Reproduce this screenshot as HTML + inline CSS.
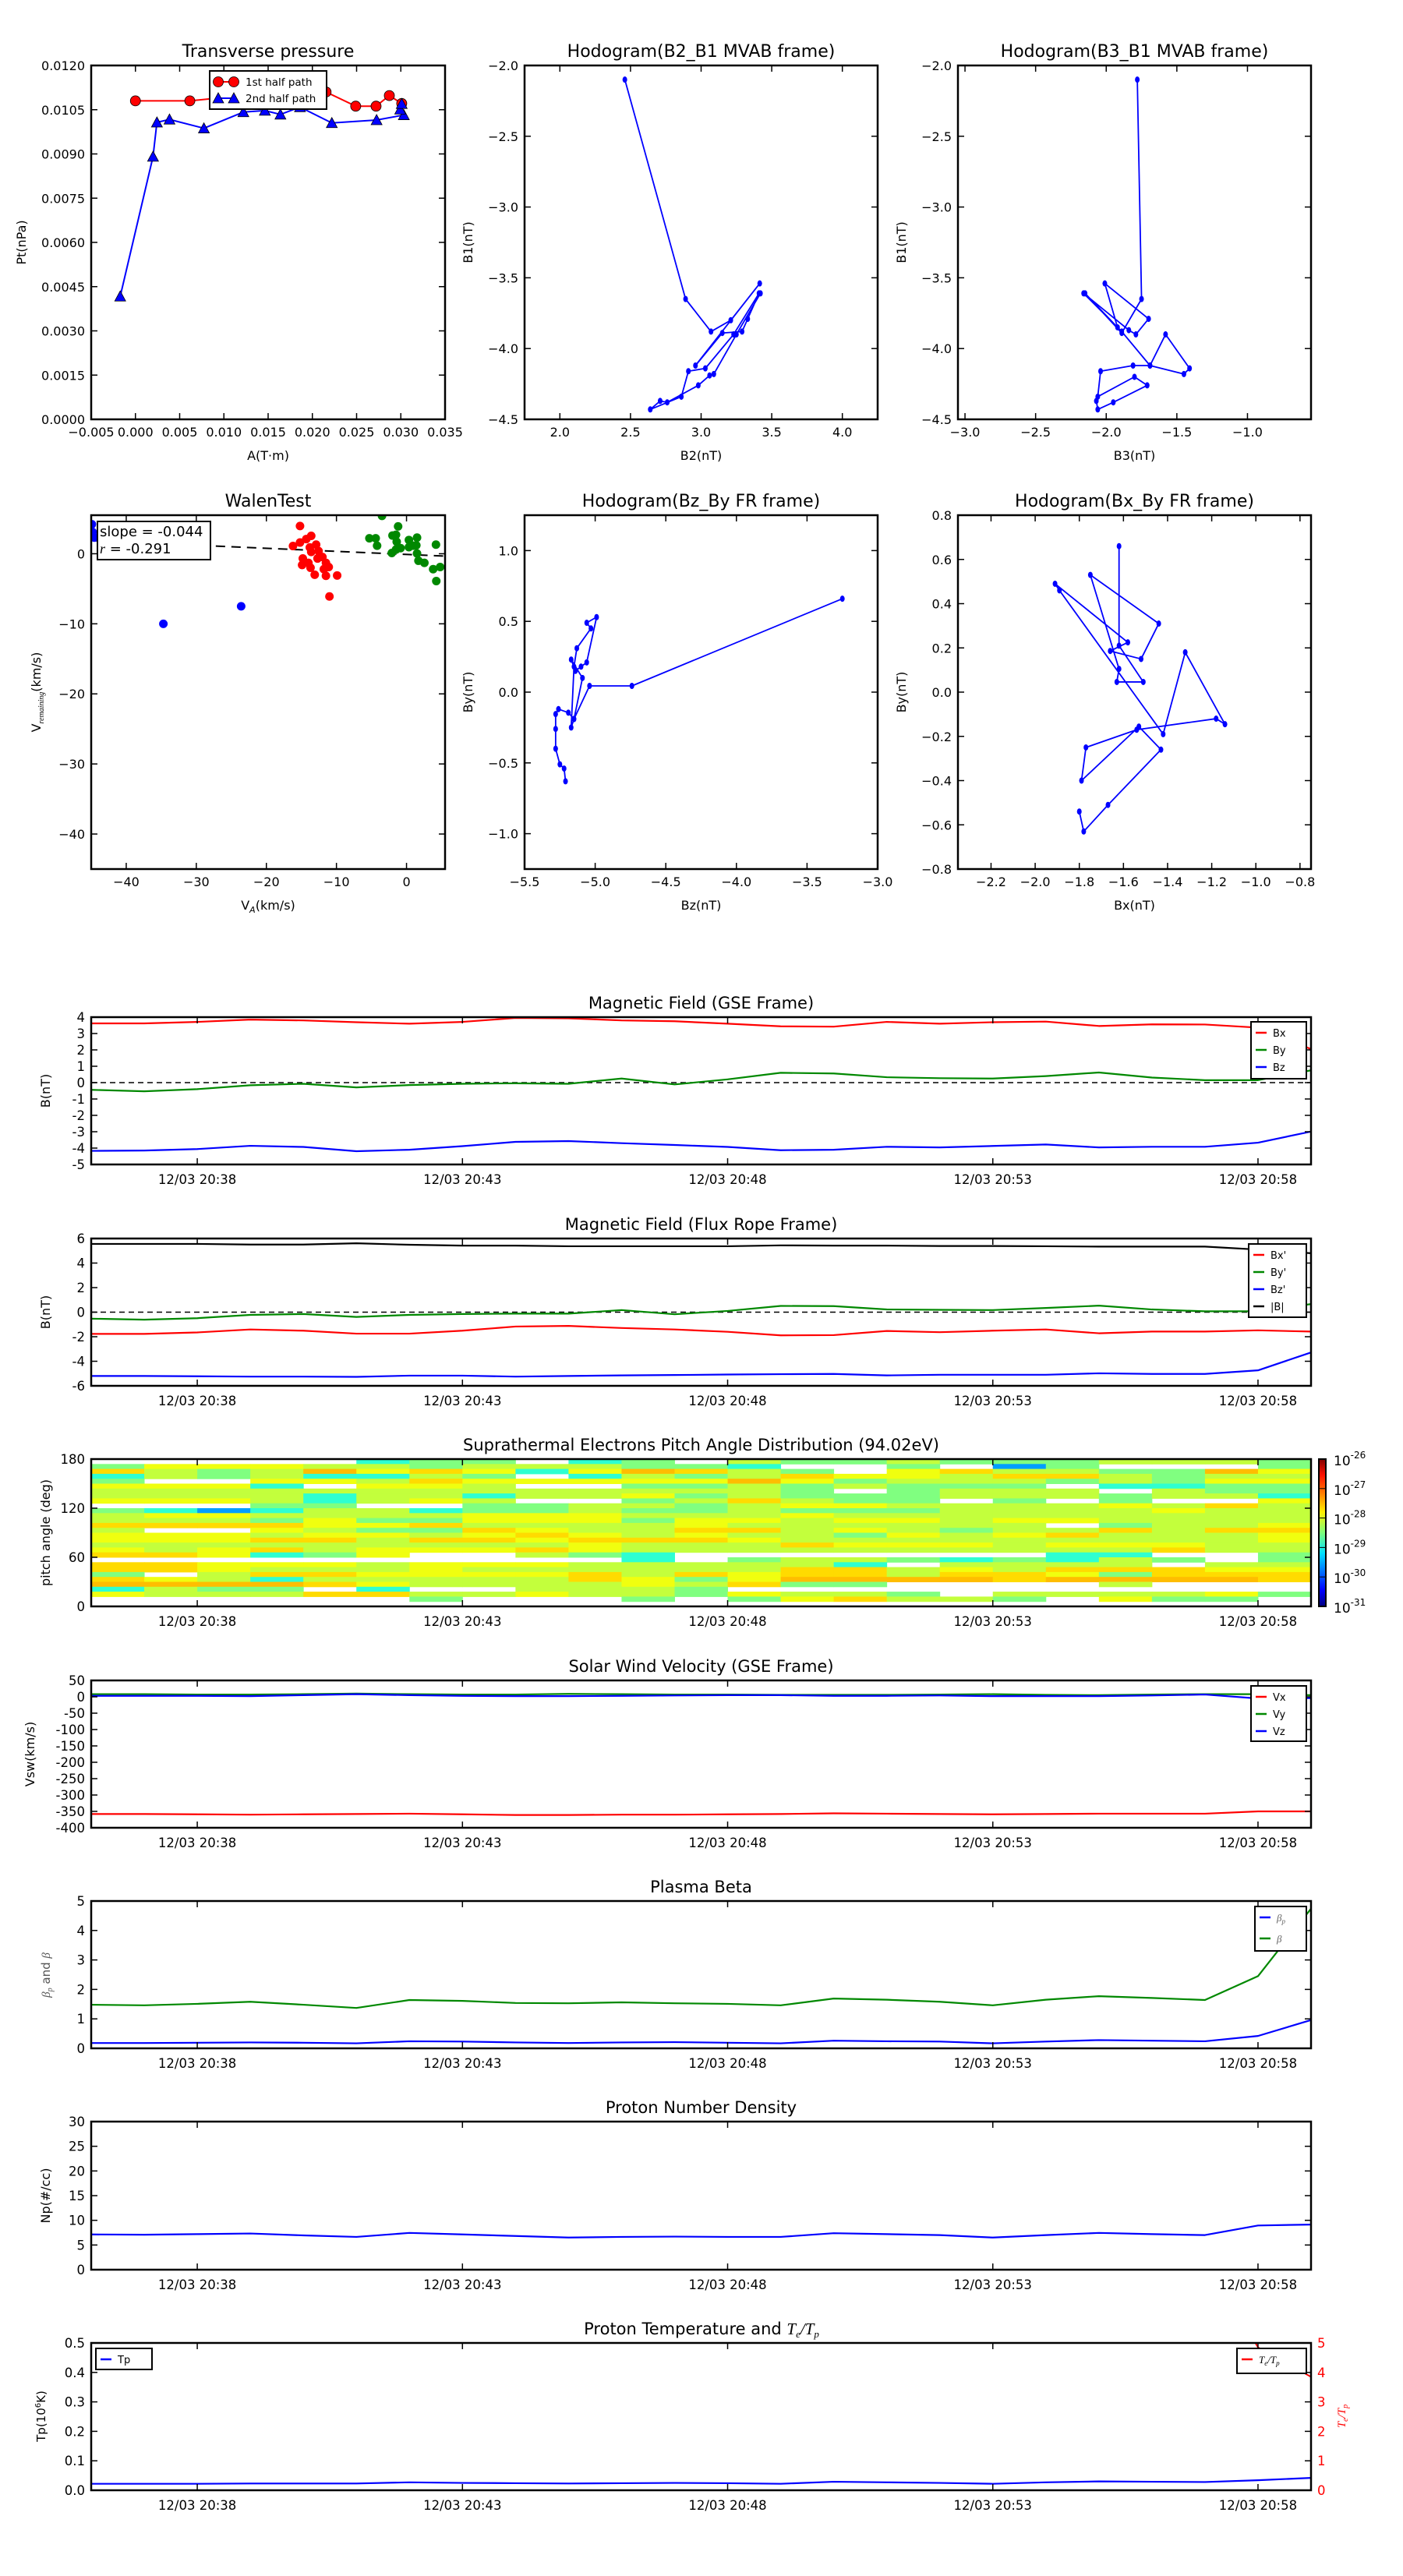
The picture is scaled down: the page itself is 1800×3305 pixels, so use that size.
<!DOCTYPE html>
<html><head><meta charset="utf-8"><title>Flux rope analysis</title>
<style>
html,body{margin:0;padding:0;background:#fff;}
svg text{font-family:"DejaVu Sans","Liberation Sans",sans-serif;}
</style></head>
<body>
<svg id="fig" xmlns="http://www.w3.org/2000/svg" width="1800" height="3300" viewBox="0 0 1800 3300">
<defs>
<linearGradient id="jet" x1="0" y1="1" x2="0" y2="0">
<stop offset="0" stop-color="#00007f"/><stop offset="0.11" stop-color="#0000ff"/><stop offset="0.36" stop-color="#00e0ff"/><stop offset="0.5" stop-color="#7dff7a"/><stop offset="0.64" stop-color="#ffef00"/><stop offset="0.89" stop-color="#ff1000"/><stop offset="1" stop-color="#7f0000"/>
</linearGradient>
</defs>
</svg>
<script>
// ---------------- DATA ----------------
const tpX1 = [0, 0.00615, 0.0095, 0.0195, 0.02155, 0.0249, 0.0272, 0.0287, 0.0301];
const tpY1 = [0.0108, 0.0108, 0.0109, 0.0112, 0.0111, 0.01062, 0.01062, 0.01098, 0.01071];
const tpX2 = [-0.00172, 0.00199, 0.00243, 0.00385, 0.00774, 0.0122, 0.01463, 0.01639, 0.0186, 0.0222, 0.02726, 0.03034, 0.02993, 0.0301];
const tpY2 = [0.00417, 0.00891, 0.01007, 0.01017, 0.00987, 0.01042, 0.01047, 0.01034, 0.01059, 0.01005, 0.01015, 0.01032, 0.01051, 0.0107];

const h1B2 = [2.46, 2.89, 3.07, 3.21, 3.415, 2.96, 3.15, 3.29, 3.33, 3.41, 3.23, 3.03, 2.91, 2.86, 2.64, 2.71, 2.76, 2.98, 3.06, 3.09, 3.25, 3.42];
const h1B1 = [-2.10, -3.65, -3.88, -3.80, -3.54, -4.12, -3.89, -3.88, -3.79, -3.61, -3.90, -4.14, -4.16, -4.34, -4.43, -4.37, -4.38, -4.26, -4.19, -4.18, -3.90, -3.61];
const h2B3 = [-1.78, -1.75, -1.89, -2.15, -1.92, -2.01, -1.70, -1.79, -1.84, -2.16, -1.89, -1.69, -1.58, -1.41, -1.45, -1.69, -1.81, -2.04, -2.06, -1.80, -1.71, -1.95, -2.06, -2.07];
const h2B1 = [-2.10, -3.65, -3.89, -3.61, -3.85, -3.54, -3.79, -3.90, -3.87, -3.61, -3.88, -4.12, -3.90, -4.14, -4.18, -4.12, -4.12, -4.16, -4.34, -4.20, -4.26, -4.38, -4.43, -4.37];

const wRedX = [-15.2, -16.2, -15.2, -14.3, -13.6, -12.9, -13.8, -13.6, -12.55, -12.0, -12.7, -14.8, -14.9, -14.0, -13.7, -11.5, -11.1, -11.8, -13.1, -11.5, -9.9, -11.0];
const wRedY = [3.96, 1.1, 1.6, 2.1, 2.55, 1.3, 0.9, 0.26, 0.38, -0.47, -0.68, -0.68, -1.6, -1.3, -2.0, -1.3, -1.9, -2.2, -3.0, -3.15, -3.1, -6.1];
const wGreenX = [-3.5, -5.3, -4.4, -4.2, -2.0, -1.2, -1.5, -1.4, -2.1, -1.5, -0.85, 0.34, 0.34, 0.98, 1.5, 1.4, 1.5, 1.7, 2.55, 4.2, 3.8, 4.8, 4.25];
const wGreenY = [5.4, 2.2, 2.2, 1.15, 2.6, 3.9, 2.7, 1.7, 0.1, 0.6, 0.8, 1.96, 0.94, 1.15, 2.3, 1.2, 0.04, -1.0, -1.3, 1.3, -2.2, -1.9, -3.9];
const wBlueX = [-44.9, -44.8, -44.55, -34.7, -23.6];
const wBlueY = [4.2, 3.1, 2.3, -10.0, -7.5];
const walenSlope = -0.044;
const walenIntercept = -0.1;

const h3Bz = [-5.21, -5.22, -5.25, -5.28, -5.28, -5.28, -5.26, -5.19, -5.15, -5.17, -5.15, -5.13, -5.03, -5.06, -4.99, -5.06, -5.10, -5.14, -5.17, -5.09, -5.15, -5.04, -4.74, -3.25];
const h3By = [-0.63, -0.54, -0.51, -0.40, -0.26, -0.155, -0.12, -0.145, -0.19, -0.25, 0.18, 0.31, 0.45, 0.49, 0.53, 0.21, 0.18, 0.15, 0.23, 0.10, -0.19, 0.044, 0.044, 0.66];
const h4Bx = [-1.80, -1.78, -1.67, -1.43, -1.53, -1.79, -1.77, -1.54, -1.18, -1.14, -1.32, -1.42, -1.89, -1.91, -1.58, -1.66, -1.52, -1.44, -1.75, -1.62, -1.63, -1.51, -1.62, -1.62];
const h4By = [-0.54, -0.63, -0.51, -0.26, -0.156, -0.40, -0.25, -0.17, -0.12, -0.145, 0.18, -0.19, 0.46, 0.49, 0.225, 0.186, 0.15, 0.31, 0.53, 0.105, 0.046, 0.046, 0.21, 0.66];

// time series: minutes after 12/03 20:36
const tMin = [0,1,2,3,4,5,6,7,8,9,10,11,12,13,14,15,16,17,18,19,20,21,22,23];
const timeTicks = [2, 7, 12, 17, 22];
const timeTickLabels = ["12/03 20:38", "12/03 20:43", "12/03 20:48", "12/03 20:53", "12/03 20:58"];

const gseBx = [3.62,3.62,3.71,3.85,3.80,3.69,3.60,3.71,3.95,3.93,3.80,3.75,3.60,3.44,3.42,3.71,3.60,3.69,3.73,3.46,3.56,3.55,3.36,2.05];
const gseBy = [-0.44,-0.53,-0.40,-0.16,-0.07,-0.29,-0.15,-0.07,-0.04,-0.07,0.25,-0.11,0.2,0.6,0.56,0.33,0.27,0.25,0.4,0.62,0.31,0.15,0.15,0.75];
const gseBz = [-4.17,-4.15,-4.06,-3.86,-3.93,-4.19,-4.10,-3.88,-3.62,-3.57,-3.70,-3.81,-3.93,-4.13,-4.10,-3.92,-3.96,-3.87,-3.78,-3.96,-3.92,-3.92,-3.67,-2.99];

const frBx = [-1.77,-1.77,-1.65,-1.41,-1.51,-1.75,-1.75,-1.51,-1.17,-1.12,-1.29,-1.41,-1.60,-1.89,-1.87,-1.53,-1.63,-1.51,-1.41,-1.72,-1.58,-1.58,-1.48,-1.58];
const frBy = [-0.53,-0.61,-0.49,-0.22,-0.15,-0.39,-0.22,-0.15,-0.12,-0.12,0.17,-0.17,0.1,0.51,0.49,0.22,0.19,0.17,0.34,0.53,0.22,0.07,0.07,0.66];
const frBz = [-5.20,-5.20,-5.22,-5.25,-5.25,-5.27,-5.17,-5.17,-5.25,-5.20,-5.15,-5.12,-5.08,-5.05,-5.03,-5.15,-5.10,-5.10,-5.10,-4.98,-5.03,-5.03,-4.74,-3.28];
const frBt = [5.56,5.56,5.56,5.51,5.51,5.61,5.49,5.42,5.42,5.37,5.37,5.37,5.37,5.44,5.42,5.42,5.39,5.39,5.37,5.34,5.34,5.34,5.10,4.80];

// pitch angle distribution: rows from 180 deg (top) to 0 deg, 6 deg bins; codes map to log10 flux
const padCodeValue = {W: null, b: -29.6, c: -28.9, g: -28.5, l: -28.17, y: -27.95, o: -27.7, O: -27.55};
const padRows = [
"WWWWWcggWcgWlgglggglllg",
"gyyyllglllggcWWgWbgWWWg",
"olglOyoycyOolgWyollggOy",
"clglcclgWclgloyyloolgll",
"gWWyyloyyyyyOyglllglgyy",
"yyycWyylWWgglglgggWccgg",
"lllllllllllllgWglllWlgg",
"llllcllcllyglggglllgllc",
"yyylclylWWglolggWgWgWWy",
"WWWggWWggllglyyllllylol",
"gcbcllcgglgglgggllllyll",
"lyyllllyyylllylllllllll",
"lllgyggyyygyylyylyyllll",
"ooooyyollllyllllllWglly",
"lWWylggoylloolylglloloo",
"yyylyylyoylyllgylyolllyy",
"yyyoolooyoooyllllllllly",
"lllllllllyllloyyylyyyll",
"ylyolyyyoyllllllllllolll",
"ooycgyWWlgcWWWWWWWccWWg",
"WWWWWWWWWWcWgllgcgclgWg",
"ooyyylyyylllllcWllllWlll",
"ooylllylllllloolyloooyyl",
"gWlooyyyyoloyoolooygoooy",
"oylcllllloygyOOOOoOOOOoy",
"OOOOoyllllyloggWWWWlWWWWg",
"clggWcWWlllgWWWWWWWWWWW",
"yllloollyllgyllgWllllygl",
"WWWWWWgWWWgWgyollgWyggW",
"WWWWWWWWWWWWWWWWWWWWWWW"
];

const vx = [-358,-358,-359,-360,-359,-358,-357,-359,-361,-361,-360,-360,-359,-358,-356,-357,-358,-359,-358,-357,-357,-357,-350,-350];
const vy = [8,8,7,7,8,10,8,7,7,9,8,7,7,6,6,6,7,8,6,5,7,8,8,5];
const vz = [3,3,3,2,5,8,5,3,2,2,3,4,5,5,3,3,4,2,2,2,4,7,-5,-4];

const betaP = [0.18,0.18,0.19,0.2,0.19,0.17,0.24,0.23,0.2,0.18,0.2,0.21,0.19,0.17,0.26,0.24,0.23,0.17,0.23,0.28,0.26,0.24,0.42,0.96];
const betaAll = [1.48,1.46,1.51,1.58,1.48,1.37,1.64,1.61,1.54,1.53,1.56,1.53,1.51,1.46,1.69,1.65,1.58,1.46,1.65,1.77,1.71,1.64,2.45,4.74];

const np = [7.14,7.08,7.2,7.33,6.95,6.64,7.45,7.14,6.83,6.51,6.64,6.7,6.64,6.64,7.39,7.2,7.01,6.51,7.01,7.45,7.2,7.01,8.95,9.14];
const tp = [0.022,0.022,0.022,0.023,0.023,0.023,0.027,0.025,0.024,0.023,0.024,0.025,0.024,0.022,0.029,0.027,0.025,0.022,0.027,0.030,0.029,0.028,0.034,0.042];
const teTp = [9,9,9,9,9,9,9,9,9,9,9,9,9,9,9,9,9,9,9,9,9,8,4.85,3.85];

// ---------------- HELPERS ----------------
const NS = "http://www.w3.org/2000/svg";
const svg = document.getElementById("fig");
let clipId = 0;
function mk(tag, parent, name, inter) {
  const e = document.createElementNS(NS, tag);
  
  
  parent.appendChild(e);
  return e;
}
function set(e, a) { for (const k in a) e.setAttribute(k, a[k]); return e; }
function txt(parent, name, x, y, s, size, anchor, extra) {
  const t = mk("text", parent, name, false);
  set(t, {x: x, y: y, "font-size": size, "text-anchor": anchor || "middle"});
  if (extra) set(t, extra);
  t.textContent = s;
  return t;
}
function fmt(v, d) { const s = v.toFixed(d); return s.replace("-", "\u2212"); }

function makeAxes(name, o) {
  const g = mk("g", svg, name, false);
  const sx = v => o.x0 + (v - o.xmin) / (o.xmax - o.xmin) * (o.x1 - o.x0);
  const sy = v => o.y1 - (v - o.ymin) / (o.ymax - o.ymin) * (o.y1 - o.y0);
  const cid = "clip" + (clipId++);
  const cp = document.createElementNS(NS, "clipPath");
  cp.setAttribute("id", cid);
  const cr = document.createElementNS(NS, "rect");
  set(cr, {x: o.x0, y: o.y0, width: o.x1 - o.x0, height: o.y1 - o.y0});
  cp.appendChild(cr); svg.appendChild(cp);
  const plot = mk("g", g, name + "-plot-area", false);
  plot.setAttribute("clip-path", "url(#" + cid + ")");
  const fr = mk("g", g, name + "-frame-group", false);
  const tl = o.tickLen || 8;
  (o.xticks || []).forEach((v, i) => {
    const x = sx(v);
    const t1 = mk("line", fr, name + "-x-tick", false);
    set(t1, {x1: x, x2: x, y1: o.y1, y2: o.y1 - tl, stroke: "#000", "stroke-width": 1.5});
    const t2 = mk("line", fr, name + "-x-tick-top", false);
    set(t2, {x1: x, x2: x, y1: o.y0, y2: o.y0 + tl, stroke: "#000", "stroke-width": 1.5});
    txt(fr, name + "-x-tick-label", x, o.y1 + (o.xlabOff || 24), o.xlabels[i], o.tickSize || 16, "middle");
  });
  (o.yticks || []).forEach((v, i) => {
    const y = sy(v);
    const t1 = mk("line", fr, name + "-y-tick", false);
    set(t1, {x1: o.x0, x2: o.x0 + tl, y1: y, y2: y, stroke: "#000", "stroke-width": 1.5});
    if (!o.noRightTicks) {
      const t2 = mk("line", fr, name + "-y-tick-right", false);
      set(t2, {x1: o.x1, x2: o.x1 - tl, y1: y, y2: y, stroke: "#000", "stroke-width": 1.5});
    }
    txt(fr, name + "-y-tick-label", o.x0 - 8, y + 6, o.ylabels[i], o.tickSize || 16, "end");
  });
  const rect = mk("rect", fr, name + "-frame", false);
  set(rect, {x: o.x0, y: o.y0, width: o.x1 - o.x0, height: o.y1 - o.y0, fill: "none", stroke: "#000", "stroke-width": 2.5});
  if (o.title) txt(fr, name + "-title", (o.x0 + o.x1) / 2, o.y0 - 11, o.title, o.titleSize || 22, "middle");
  if (o.xlabel) txt(fr, name + "-x-axis-title", (o.x0 + o.x1) / 2, o.y1 + 52, o.xlabel, 16, "middle");
  if (o.ylabel) {
    const yy = (o.y0 + o.y1) / 2;
    txt(fr, name + "-y-axis-title", o.ylabelX, yy, o.ylabel, 16, "middle", {transform: "rotate(-90 " + o.ylabelX + " " + yy + ")"});
  }
  return {g: g, plot: plot, fr: fr, sx: sx, sy: sy};
}
function line(ax, name, xs, ys, color, w, dash) {
  const p = mk("polyline", ax.plot, name, false);
  set(p, {points: xs.map((x, i) => ax.sx(x) + "," + ax.sy(ys[i])).join(" "), fill: "none", stroke: color, "stroke-width": w || 2, "stroke-linejoin": "round"});
  if (dash) p.setAttribute("stroke-dasharray", dash);
  return p;
}
function dots(ax, name, xs, ys, color, r, rx) {
  xs.forEach((x, i) => {
    const c = mk("ellipse", ax.plot, name, false);
    set(c, {cx: ax.sx(x), cy: ax.sy(ys[i]), rx: rx || r, ry: r, fill: color, stroke: "none"});
  });
}
function range(a, b, s) { const r = []; for (let v = a; v <= b + 1e-9; v += s) r.push(+v.toFixed(6)); return r; }

// ---------------- TRANSVERSE PRESSURE ----------------
(function () {
  const yt = range(0, 0.012, 0.0015);
  const xt = range(-0.005, 0.035, 0.005);
  const ax = makeAxes("transverse-pressure-chart", {x0: 117, x1: 571, y0: 84, y1: 538, xmin: -0.005, xmax: 0.035, ymin: 0, ymax: 0.012,
    xticks: xt, xlabels: xt.map(v => fmt(v, 3)), yticks: yt, ylabels: yt.map(v => v.toFixed(4)), xlabOff: 22,
    title: "Transverse pressure", xlabel: "A(T\u00b7m)", ylabel: "Pt(nPa)", ylabelX: 33});
  line(ax, "first-half-path-line", tpX1, tpY1, "#f00", 2);
  tpX1.forEach((x, i) => {
    const c = mk("circle", ax.plot, "first-half-point", false);
    set(c, {cx: ax.sx(x), cy: ax.sy(tpY1[i]), r: 6.5, fill: "#f00", stroke: "#000", "stroke-width": 0.8});
  });
  line(ax, "second-half-path-line", tpX2, tpY2, "#00f", 2);
  tpX2.forEach((x, i) => {
    const px = ax.sx(x), py = ax.sy(tpY2[i]);
    const t = mk("polygon", ax.plot, "second-half-point", false);
    set(t, {points: px + "," + (py - 7) + " " + (px - 7) + "," + (py + 6) + " " + (px + 7) + "," + (py + 6), fill: "#00f", stroke: "#000", "stroke-width": 0.8});
  });
  const lg = mk("g", ax.fr, "pressure-legend", false);
  const bx = mk("rect", lg, "legend-box", false);
  set(bx, {x: 269, y: 91, width: 150, height: 49, fill: "#fff", stroke: "#000", "stroke-width": 2});
  const l1 = mk("line", lg, "legend-entry-first-half-line", false);
  set(l1, {x1: 280, x2: 300, y1: 105, y2: 105, stroke: "#f00", "stroke-width": 2});
  [280, 300].forEach(x => { const c = mk("circle", lg, "legend-entry-first-half-marker", false); set(c, {cx: x, cy: 105, r: 6.5, fill: "#f00", stroke: "#000", "stroke-width": 0.8}); });
  txt(lg, "legend-entry-first-half-label", 315, 110, "1st half path", 13.5, "start");
  const l2 = mk("line", lg, "legend-entry-second-half-line", false);
  set(l2, {x1: 280, x2: 300, y1: 126, y2: 126, stroke: "#00f", "stroke-width": 2});
  [280, 300].forEach(x => { const t = mk("polygon", lg, "legend-entry-second-half-marker", false); set(t, {points: x + ",119 " + (x - 7) + ",132 " + (x + 7) + ",132", fill: "#00f", stroke: "#000", "stroke-width": 0.8}); });
  txt(lg, "legend-entry-second-half-label", 315, 131, "2nd half path", 13.5, "start");
})();

// ---------------- HODOGRAMS MVAB ----------------
(function () {
  const yt = range(-4.5, -2.0, 0.5);
  const xt1 = range(2.0, 4.0, 0.5);
  const ax1 = makeAxes("hodogram-b2-b1-chart", {x0: 673, x1: 1126, y0: 84, y1: 538, xmin: 1.75, xmax: 4.25, ymin: -4.5, ymax: -2.0,
    xticks: xt1, xlabels: xt1.map(v => v.toFixed(1)), yticks: yt, ylabels: yt.map(v => fmt(v, 1)), xlabOff: 22,
    title: "Hodogram(B2_B1 MVAB frame)", xlabel: "B2(nT)", ylabel: "B1(nT)", ylabelX: 606});
  line(ax1, "b2-b1-path", h1B2, h1B1, "#00f", 1.8);
  dots(ax1, "b2-b1-point", h1B2, h1B1, "#00f", 4, 3);
  const xt2 = range(-3.0, -1.0, 0.5);
  const ax2 = makeAxes("hodogram-b3-b1-chart", {x0: 1229, x1: 1682, y0: 84, y1: 538, xmin: -3.05, xmax: -0.55, ymin: -4.5, ymax: -2.0,
    xticks: xt2, xlabels: xt2.map(v => fmt(v, 1)), yticks: yt, ylabels: yt.map(v => fmt(v, 1)), xlabOff: 22,
    title: "Hodogram(B3_B1 MVAB frame)", xlabel: "B3(nT)", ylabel: "B1(nT)", ylabelX: 1162});
  line(ax2, "b3-b1-path", h2B3, h2B1, "#00f", 1.8);
  dots(ax2, "b3-b1-point", h2B3, h2B1, "#00f", 4, 3);
})();

// ---------------- WALEN TEST ----------------
(function () {
  const xt = [-40, -30, -20, -10, 0];
  const yt = [-40, -30, -20, -10, 0];
  const ax = makeAxes("walen-test-chart", {x0: 117, x1: 571, y0: 661, y1: 1115, xmin: -45, xmax: 5.5, ymin: -45, ymax: 5.5,
    xticks: xt, xlabels: xt.map(v => fmt(v, 0)), yticks: yt, ylabels: yt.map(v => fmt(v, 0)), xlabOff: 22,
    title: "WalenTest", ylabelX: 52});
  const fx = [-45, 5.5];
  line(ax, "walen-fit-line", fx, fx.map(x => walenSlope * x + walenIntercept), "#000", 2, "12,8");
  dots(ax, "walen-red-point", wRedX, wRedY, "#f00", 5.5);
  dots(ax, "walen-green-point", wGreenX, wGreenY, "#080", 5.5);
  dots(ax, "walen-blue-point", wBlueX, wBlueY, "#00f", 5.5);
  const bx = mk("rect", ax.fr, "walen-stats-box", false);
  set(bx, {x: 125, y: 669, width: 145, height: 49, fill: "#fff", stroke: "#000", "stroke-width": 2});
  txt(ax.fr, "walen-slope-label", 128, 688, "slope = -0.044", 18, "start");
  const r = txt(ax.fr, "walen-r-label", 128, 710, "", 18, "start");
  r.innerHTML = '<tspan font-style="italic" font-family="Liberation Serif, serif">r</tspan> = -0.291';
  const xl = txt(ax.fr, "walen-x-axis-title", 344, 1167, "", 16, "middle");
  xl.innerHTML = 'V<tspan font-size="11" dy="4" font-style="italic">A</tspan><tspan dy="-4">(km/s)</tspan>';
  const yl = txt(ax.fr, "walen-y-axis-title", 52, 888, "", 16, "middle", {transform: "rotate(-90 52 888)"});
  yl.innerHTML = 'V<tspan font-size="10" dy="4" font-style="italic" font-family="Liberation Serif, serif">remaining</tspan><tspan dy="-4">(km/s)</tspan>';
})();

// ---------------- HODOGRAMS FR ----------------
(function () {
  const xt = range(-5.5, -3.0, 0.5);
  const yt = [-1.0, -0.5, 0.0, 0.5, 1.0];
  const ax = makeAxes("hodogram-bz-by-chart", {x0: 673, x1: 1126, y0: 661, y1: 1115, xmin: -5.5, xmax: -3.0, ymin: -1.25, ymax: 1.25,
    xticks: xt, xlabels: xt.map(v => fmt(v, 1)), yticks: yt, ylabels: yt.map(v => fmt(v, 1)), xlabOff: 22,
    title: "Hodogram(Bz_By FR frame)", xlabel: "Bz(nT)", ylabel: "By(nT)", ylabelX: 606});
  line(ax, "bz-by-path", h3Bz, h3By, "#00f", 1.8);
  dots(ax, "bz-by-point", h3Bz, h3By, "#00f", 4, 3);
  const xt2 = range(-2.2, -0.8, 0.2);
  const yt2 = range(-0.8, 0.8, 0.2);
  const ax2 = makeAxes("hodogram-bx-by-chart", {x0: 1229, x1: 1682, y0: 661, y1: 1115, xmin: -2.35, xmax: -0.75, ymin: -0.8, ymax: 0.8,
    xticks: xt2, xlabels: xt2.map(v => fmt(v, 1)), yticks: yt2, ylabels: yt2.map(v => fmt(v, 1)), xlabOff: 22,
    title: "Hodogram(Bx_By FR frame)", xlabel: "Bx(nT)", ylabel: "By(nT)", ylabelX: 1162});
  line(ax2, "bx-by-path", h4Bx, h4By, "#00f", 1.8);
  dots(ax2, "bx-by-point", h4Bx, h4By, "#00f", 4, 3);
})();

// ---------------- TIME SERIES ----------------
function timeAxes(name, y0, y1, ymin, ymax, yt, ylab, title, ylabel, extra) {
  const o = {x0: 117, x1: 1682, y0: y0, y1: y1, xmin: 0, xmax: 23, ymin: ymin, ymax: ymax,
    xticks: timeTicks, xlabels: timeTickLabels, yticks: yt, ylabels: ylab, xlabOff: 25, tickSize: 16.5,
    title: title, titleSize: 21, ylabel: ylabel, ylabelX: 64};
  if (extra) Object.assign(o, extra);
  return makeAxes(name, o);
}
function legend(ax, name, x, y, w, h, entries, rowGap, textSize) {
  const lg = mk("g", ax.fr, name, false);
  const bx = mk("rect", lg, name + "-box", false);
  set(bx, {x: x, y: y, width: w, height: h, fill: "#fff", stroke: "#000", "stroke-width": 2});
  entries.forEach((en, i) => {
    const yy = y + 14 + i * rowGap;
    const l = mk("line", lg, "legend-entry-" + en[2], false);
    set(l, {x1: x + 6, x2: x + 20, y1: yy, y2: yy, stroke: en[1], "stroke-width": 2.5});
    const t = txt(lg, "legend-label-" + en[2], x + 28, yy + 5, "", textSize || 13, "start");
    t.innerHTML = en[0];
  });
}

(function () {
  const yt = range(-5, 4, 1);
  const ax = timeAxes("magnetic-field-gse-chart", 1305, 1494, -5, 4, yt, yt.map(v => String(v)), "Magnetic Field (GSE Frame)", "B(nT)");
  line(ax, "zero-line", [0, 23], [0, 0], "#000", 1.5, "7,5");
  line(ax, "bx-line", tMin, gseBx, "#f00", 2.2);
  line(ax, "by-line", tMin, gseBy, "#080", 2.2);
  line(ax, "bz-line", tMin, gseBz, "#00f", 2.2);
  legend(ax, "gse-legend", 1605, 1311, 71, 73, [["Bx", "#f00", "bx"], ["By", "#080", "by"], ["Bz", "#00f", "bz"]], 22);
})();
(function () {
  const yt = range(-6, 6, 2);
  const ax = timeAxes("magnetic-field-fr-chart", 1589, 1778, -6, 6, yt, yt.map(v => String(v)), "Magnetic Field (Flux Rope Frame)", "B(nT)");
  line(ax, "zero-line", [0, 23], [0, 0], "#000", 1.5, "7,5");
  line(ax, "bx-prime-line", tMin, frBx, "#f00", 2.2);
  line(ax, "by-prime-line", tMin, frBy, "#080", 2.2);
  line(ax, "bz-prime-line", tMin, frBz, "#00f", 2.2);
  line(ax, "b-magnitude-line", tMin, frBt, "#000", 2.2);
  legend(ax, "fr-legend", 1602, 1596, 74, 94, [["Bx'", "#f00", "bx-prime"], ["By'", "#080", "by-prime"], ["Bz'", "#00f", "bz-prime"], ["|B|", "#000", "b-magnitude"]], 22);
})();
function jet(t) {
  const c = v => Math.round(255 * Math.max(0, Math.min(1, v)));
  return "rgb(" + c(1.5 - Math.abs(4 * t - 3)) + "," + c(1.5 - Math.abs(4 * t - 2)) + "," + c(1.5 - Math.abs(4 * t - 1)) + ")";
}
(function () {
  const yt = [0, 60, 120, 180];
  const ax = timeAxes("pitch-angle-heatmap", 1872, 2061, 0, 180, yt, yt.map(v => String(v)), "Suprathermal Electrons Pitch Angle Distribution (94.02eV)", "pitch angle (deg)");
  const nRows = padRows.length;
  const binDeg = 180 / nRows;
  padRows.forEach((rowStr, r) => {
    const row = rowStr.replace(/ /g, "");
    for (let c = 0; c < 23; c++) {
      const v = padCodeValue[row[c]];
      if (v === null || v === undefined) continue;
      const top = 180 - r * binDeg;
      const cell = mk("rect", ax.plot, "heatmap-cell", false);
      const x0 = ax.sx(c), x1 = ax.sx(c + 1), y0 = ax.sy(top), y1 = ax.sy(top - binDeg);
      set(cell, {x: x0, y: y0, width: x1 - x0 + 0.5, height: y1 - y0 + 0.5, fill: jet((v + 31) / 5)});
    }
  });
  ax.g.appendChild(ax.fr);
  const cb = mk("rect", svg, "colorbar", false);
  set(cb, {x: 1692, y: 1872, width: 9, height: 189, fill: "url(#jet)", stroke: "#000", "stroke-width": 2});
  const cbTicks = [-26, -27, -28, -29, -30, -31];
  cbTicks.forEach(p => {
    const y = 1872 + (-26 - p) * 189 / 5;
    const tk = mk("line", svg, "colorbar-tick", false);
    set(tk, {x1: 1692, x2: 1701, y1: y, y2: y, stroke: "#000", "stroke-width": 1});
    const t = txt(svg, "colorbar-tick-label", 1711, y + 8, "", 17, "start");
    t.innerHTML = '10<tspan font-size="12" dy="-9">' + p + '</tspan>';
  });
})();
(function () {
  const yt = range(-400, 50, 50);
  const ax = timeAxes("solar-wind-velocity-chart", 2156, 2345, -400, 50, yt, yt.map(v => String(v)), "Solar Wind Velocity (GSE Frame)", "Vsw(km/s)", {ylabelX: 44});
  line(ax, "vx-line", tMin, vx, "#f00", 2.2);
  line(ax, "vy-line", tMin, vy, "#080", 2.2);
  line(ax, "vz-line", tMin, vz, "#00f", 2.2);
  legend(ax, "velocity-legend", 1605, 2163, 71, 71, [["Vx", "#f00", "vx"], ["Vy", "#080", "vy"], ["Vz", "#00f", "vz"]], 22);
})();
(function () {
  const yt = range(0, 5, 1);
  const ax = timeAxes("plasma-beta-chart", 2439, 2628, 0, 5, yt, yt.map(v => String(v)), "Plasma Beta", "", {ylabelX: 0});
  line(ax, "beta-p-line", tMin, betaP, "#00f", 2.2);
  line(ax, "beta-line", tMin, betaAll, "#080", 2.2);
  legend(ax, "beta-legend", 1610, 2446, 66, 57, [['<tspan font-style="italic" fill="#666" font-family="Liberation Serif, serif">β<tspan font-size="9" dy="3">p</tspan></tspan>', "#00f", "beta-p"], ['<tspan font-style="italic" fill="#666" font-family="Liberation Serif, serif">β</tspan>', "#080", "beta"]], 27);
  const yl = txt(ax.fr, "beta-y-axis-title", 64, 2534, "", 15, "middle", {transform: "rotate(-90 64 2534)", fill: "#555"});
  yl.innerHTML = '<tspan font-style="italic" font-family="Liberation Serif, serif">β<tspan font-size="10" dy="3">p</tspan></tspan><tspan dy="-3"> and </tspan><tspan font-style="italic" font-family="Liberation Serif, serif">β</tspan>';
})();
(function () {
  const yt = range(0, 30, 5);
  const ax = timeAxes("proton-density-chart", 2722, 2912, 0, 30, yt, yt.map(v => String(v)), "Proton Number Density", "Np(#/cc)");
  line(ax, "np-line", tMin, np, "#00f", 2.2);
})();
(function () {
  const yt = range(0, 0.5, 0.1);
  const ax = timeAxes("proton-temperature-chart", 3006, 3195, 0, 0.5, yt, yt.map(v => v.toFixed(1)), "", "", {noRightTicks: true});
  const tt = txt(ax.fr, "proton-temperature-title", 900, 2995, "", 21, "middle");
  tt.innerHTML = 'Proton Temperature and <tspan font-style="italic" font-family="Liberation Serif, serif">T<tspan font-size="13" dy="4">e</tspan><tspan dy="-4">/T</tspan><tspan font-size="13" dy="4">p</tspan></tspan>';
  const yl = txt(ax.fr, "tp-y-axis-title", 58, 3100, "", 15, "middle", {transform: "rotate(-90 58 3100)"});
  yl.innerHTML = 'Tp(10<tspan font-size="10" dy="-6">6</tspan><tspan dy="6">K)</tspan>';
  line(ax, "tp-line", tMin, tp, "#00f", 2.2);
  const sy2 = v => 3195 - v / 5 * 189;
  const p = mk("polyline", ax.plot, "te-tp-line", false);
  set(p, {points: tMin.map((t, i) => ax.sx(t) + "," + sy2(teTp[i])).join(" "), fill: "none", stroke: "#f00", "stroke-width": 2});
  [0, 1, 2, 3, 4, 5].forEach(v => {
    const y = sy2(v);
    const tk = mk("line", ax.fr, "te-tp-y-tick", false);
    set(tk, {x1: 1682, x2: 1674, y1: y, y2: y, stroke: "#000", "stroke-width": 1.5});
    txt(ax.fr, "te-tp-y-tick-label", 1690, y + 6, String(v), 16.5, "start", {fill: "#f00"});
  });
  const rl = txt(ax.fr, "te-tp-y-axis-title", 1726, 3100, "", 15, "middle", {transform: "rotate(-90 1726 3100)", fill: "#f00"});
  rl.innerHTML = '<tspan font-style="italic" font-family="Liberation Serif, serif">T<tspan font-size="10" dy="3">e</tspan><tspan dy="-3">/T</tspan><tspan font-size="10" dy="3">p</tspan></tspan>';
  legend(ax, "tp-legend", 123, 3013, 72, 27, [["Tp", "#00f", "tp"]], 0);
  legend(ax, "te-tp-legend", 1587, 3013, 89, 32, [['<tspan font-style="italic" font-family="Liberation Serif, serif">T<tspan font-size="9" dy="3">e</tspan><tspan dy="-3">/T</tspan><tspan font-size="9" dy="3">p</tspan></tspan>', "#f00", "te-tp"]], 0);
})();
</script>
</body></html>
